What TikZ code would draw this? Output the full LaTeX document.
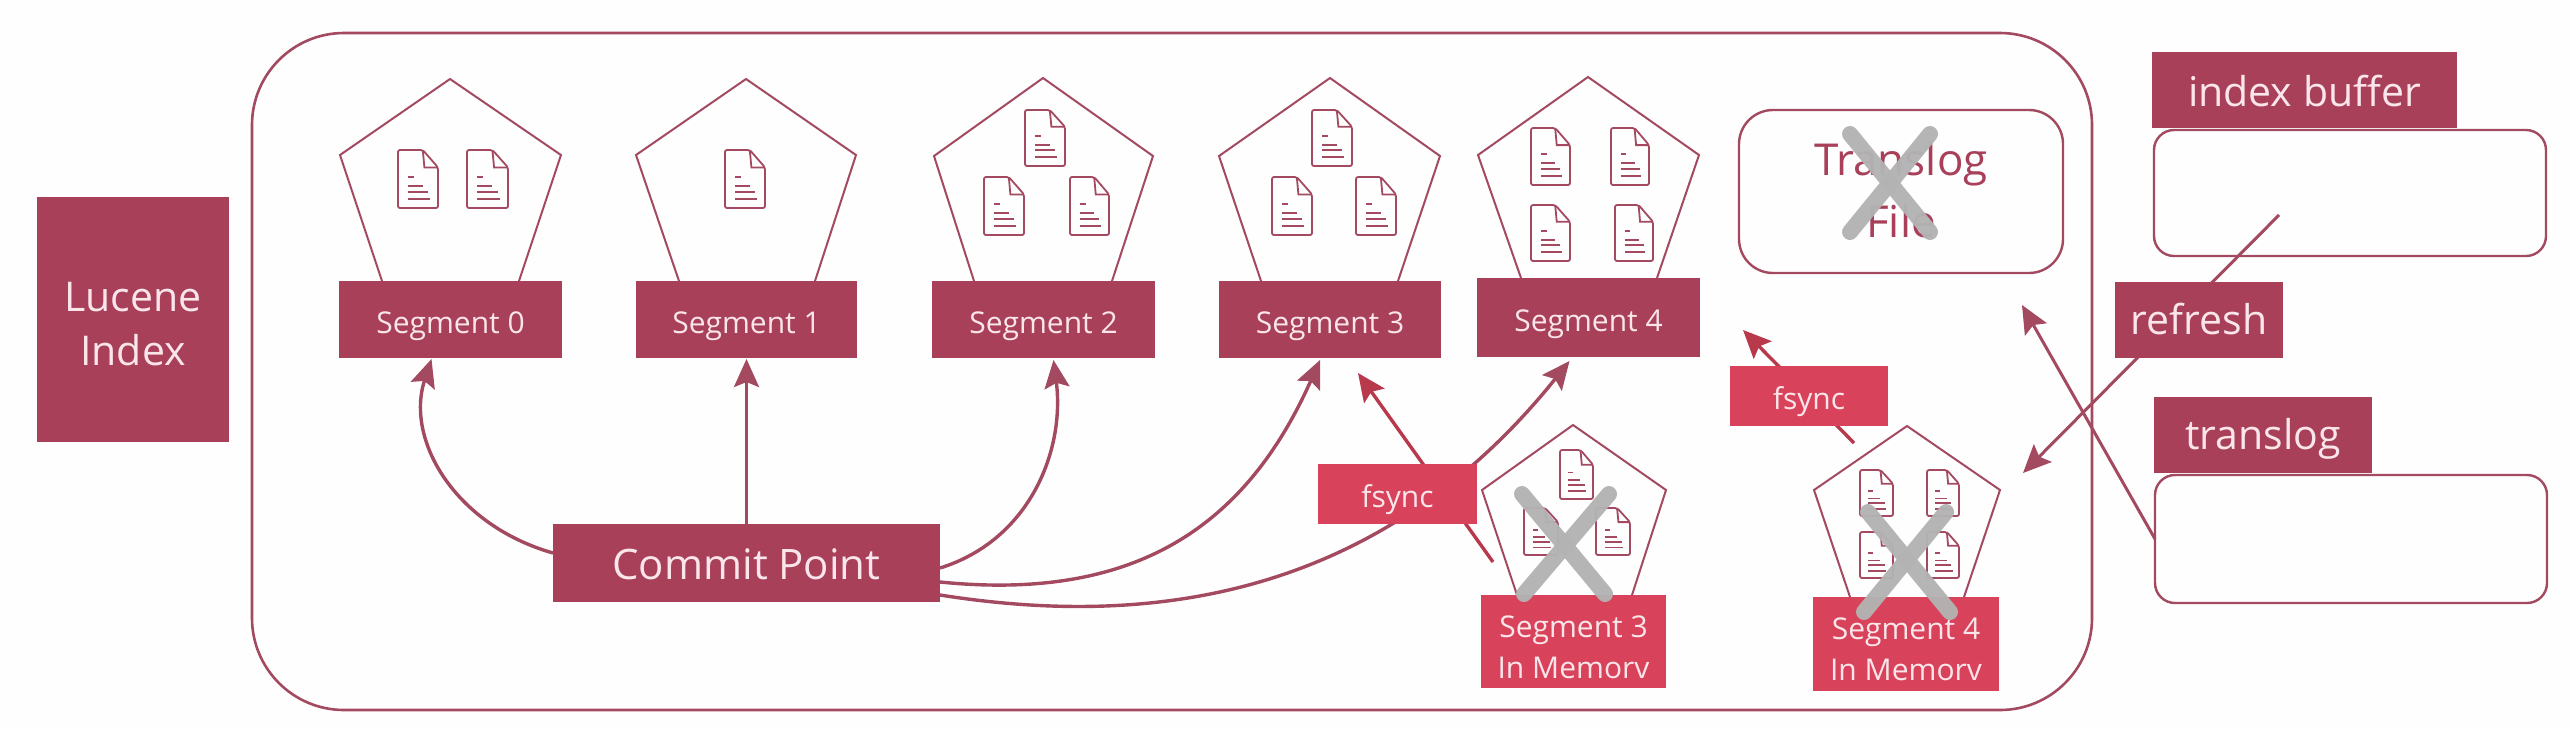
\documentclass[tikz,border=0pt]{standalone}
\usepackage{fontspec}
\setmainfont{Open Sans}
\usetikzlibrary{arrows.meta,calc}
\definecolor{wine}{HTML}{A8405A}
\definecolor{ruby}{HTML}{D8425A}
\definecolor{edgeline}{HTML}{A34A60}
\definecolor{labeltext}{HTML}{FAE6EA}
\definecolor{crossgray}{HTML}{B3B3B3}
\definecolor{paper}{HTML}{FEFEFE}
\tikzset{
  x=0.5pt,y=-0.5pt,
  sized/.style 2 args={minimum width=#1*0.5pt,minimum height=#2*0.5pt,inner sep=0pt,outer sep=0pt},
  winebox/.style={fill=wine,text=labeltext,align=center},
  rubybox/.style={fill=ruby,text=labeltext,align=center},
  roundbox/.style={draw=edgeline,line width=1.2pt,fill=paper,rounded corners=10pt},
  smalltext/.style={font=\fontsize{15}{20.5}\selectfont,text depth=0pt,text height=13.5pt},
  bigtext/.style={font=\fontsize{20.5}{27}\selectfont,text depth=0pt,text height=14pt},
  link/.style={draw=edgeline,line width=1.7pt,-{Stealth[length=14pt,width=12.5pt,inset=2.5pt]}},
  penta/.style={draw=edgeline,line width=1pt,line join=miter},
  crossbar/.style={draw=crossgray,line width=8pt,line cap=round,opacity=.96},
  doc/.style={draw=edgeline,line width=.9pt,fill=paper,rounded corners=1pt},
  docline/.style={draw=edgeline,line width=.9pt},
}
\newcommand{\docicon}[4]{%
  \begin{scope}[shift={(#1,#2)},x=#3*0.5pt,y=-#4*0.5pt]
    \draw[doc] (0,0) -- (.62,0) -- (1,.3) -- (1,1) -- (0,1) -- cycle;
    \draw[docline] (.62,0) -- (.66,.3) -- (1,.3);
    \draw[docline] (.25,.46) -- (.4,.46);
    \draw[docline] (.25,.62) -- (.62,.62);
    \draw[docline] (.25,.72) -- (.75,.72);
    \draw[docline] (.25,.84) -- (.8,.84);
  \end{scope}}
\begin{document}
\begin{tikzpicture}
\useasboundingbox[fill=paper] (0,0) rectangle (2570,730);

% outer container
\node[sized={1840}{677},draw=edgeline,line width=1.3pt,rounded corners=46pt] (outer) at (1172,371.5) {};

% left block
\node[sized={192}{245},winebox,bigtext,text height=45.5pt] (lucene) at (133,319.5) {Lucene\\Index};

% segments
\node[sized={223}{77},winebox,smalltext] (seg0) at (450.5,319.5) {Segment 0};
\node[sized={221}{77},winebox,smalltext] (seg1) at (746.5,319.5) {Segment 1};
\node[sized={223}{77},winebox,smalltext] (seg2) at (1043.5,319.5) {Segment 2};
\node[sized={222}{77},winebox,smalltext] (seg3) at (1330,319.5) {Segment 3};
\node[sized={223}{79},winebox,smalltext] (seg4) at (1588.5,317.5) {Segment 4};

\draw[penta] (382,281) -- (340,155) -- (450,79) -- (561,155) -- (519,281);
\draw[penta] (679,281) -- (636,155) -- (746,79) -- (856,155) -- (815,281);
\draw[penta] (974,281) -- (934,156) -- (1043,78) -- (1153,156) -- (1112,281);
\draw[penta] (1261,281) -- (1219,156) -- (1330,78) -- (1440,156) -- (1398,281);
\draw[penta] (1521,278) -- (1478,155) -- (1588,77) -- (1699,155) -- (1657,278);

\docicon{398}{150}{40}{58}
\docicon{467}{150}{41}{58}
\docicon{725}{150}{40}{58}
\docicon{1025}{110}{40}{56}
\docicon{984}{177}{40}{58}
\docicon{1070}{177}{39}{58}
\docicon{1312}{110}{40}{56}
\docicon{1272}{177}{40}{58}
\docicon{1356}{177}{40}{58}
\docicon{1531}{128}{39}{57}
\docicon{1611}{128}{38}{57}
\docicon{1531}{205}{39}{56}
\docicon{1615}{205}{38}{56}

% commit point and its links
\node[sized={387}{78},winebox,bigtext,font=\fontsize{21}{27}\selectfont,text height=16pt] (commit) at (746.5,563) {Commit Point};
\draw[link] ([shift={(0,-10)}]commit.west) .. controls (455,525) and (405,440) .. ([shift={(-19,1)}]seg0.south);
\draw[link] (commit.north) -- ([shift={(0,1)}]seg1.south);
\draw[link] ([shift={(0,5)}]commit.east) .. controls (1030,540) and (1065,450) .. ([shift={(10,2)}]seg2.south);
\draw[link] ([shift={(0,19)}]commit.east) .. controls (1120,600) and (1240,540) .. ([shift={(-10,2)}]seg3.south);
\draw[link] ([shift={(0,32)}]commit.east) .. controls (1130,625) and (1370,610) .. ([shift={(-19,4)}]seg4.south);

% in-memory segments
\node[sized={185}{93},rubybox,smalltext,text height=36.5pt] (memA) at (1573.5,641.5) {Segment 3\\In Memorv};
\node[sized={186}{94},rubybox,smalltext,text height=36pt] (memB) at (1906,644) {Segment 4\\In Memorv};
\draw[penta] (1517,595) -- (1482,490) -- (1573,425) -- (1666,490) -- (1632,595);
\draw[penta] (1850,597) -- (1814,490) -- (1907,426) -- (2000,490) -- (1964,597);
\docicon{1560}{450}{33}{49}
\docicon{1524}{508}{34}{47}
\docicon{1596}{508}{34}{47}
\docicon{1860}{470}{33}{46}
\docicon{1927}{470}{32}{46}
\docicon{1860}{532}{33}{46}
\docicon{1927}{532}{32}{46}

% fsync links
\coordinate (fsyncAfrom) at (1493,562);
\coordinate (fsyncAto) at (1358,373);
\coordinate (fsyncBfrom) at (1854,443);
\coordinate (fsyncBto) at (1743,330);
\draw[link,draw=ruby!85!black] (fsyncAfrom) -- (fsyncAto);
\draw[link,draw=ruby!85!black] (fsyncBfrom) -- (fsyncBto);
\node[sized={159}{60},rubybox,smalltext] (fsyncA) at (1397.5,493.5) {fsync};
\node[sized={158}{60},rubybox,smalltext] (fsyncB) at (1809,395.5) {fsync};

% translog file
\node[sized={324}{163},roundbox,rounded corners=17pt,text=wine,align=center,font=\fontsize{22}{31}\selectfont,text depth=0pt,text height=45.5pt] (tfile) at (1901,191.5) {Translog\\File};

% right column
\node[sized={392}{126},roundbox] (idxbox) at (2350,193) {};
\node[sized={305}{76},winebox,bigtext,text height=16pt] (idxlabel) at (2304.5,90) {index buffer};
\node[sized={392}{128},roundbox] (tlbox) at (2351,539) {};
\node[sized={218}{76},winebox,bigtext] (tllabel) at (2263,435) {translog};

\coordinate (refreshTip) at (2023,473);
\coordinate (tlTip) at (2022,305);
\draw[link,line width=1.5pt] ([shift={(-71,22)}]idxbox.center) -- (refreshTip);
\draw[link,line width=1.5pt] (tlbox.west) -- (tlTip);
\node[sized={168}{76},winebox,bigtext] (refresh) at (2199,320) {refresh};

% grey crosses
\draw[crossbar] (1850,134) -- (1930,232);
\draw[crossbar] (1930,134) -- (1850,232);
\draw[crossbar] (1522,494) -- (1605,594);
\draw[crossbar] (1609,494) -- (1524,594);
\draw[crossbar] (1868,512) -- (1950,612);
\draw[crossbar] (1946,512) -- (1864,612);
\end{tikzpicture}
\end{document}
